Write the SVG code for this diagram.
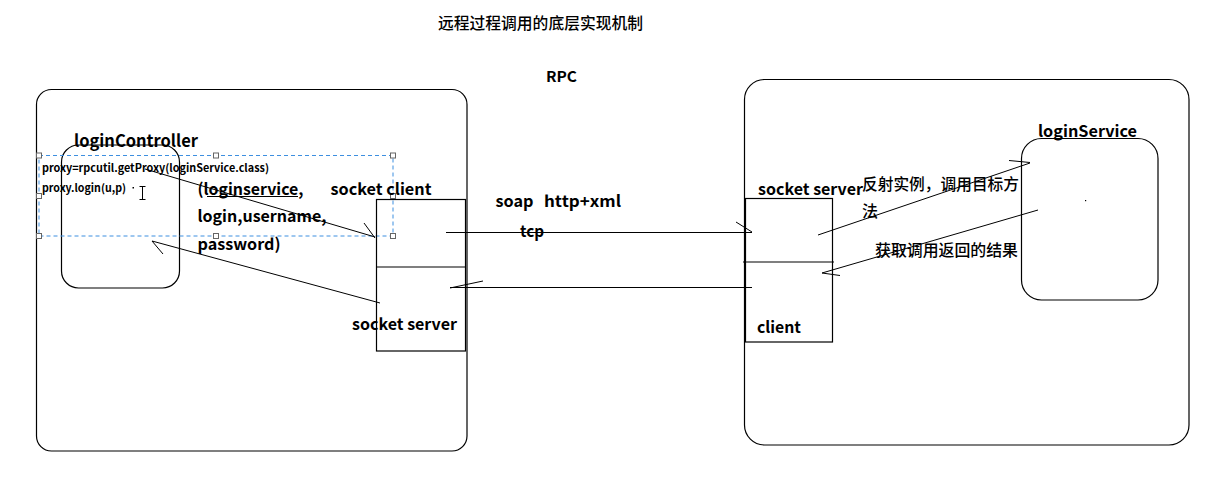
<svg xmlns="http://www.w3.org/2000/svg" width="1228" height="480" viewBox="0 0 1228 480">
<style>
.box{fill:none;stroke:#000;stroke-width:1.2}
.ln{fill:none;stroke:#000;stroke-width:1}
.t{font-family:"Noto Sans CJK SC","Noto Sans",sans-serif;font-weight:bold;fill:#000}
.zh{font-family:"Noto Sans CJK SC",sans-serif;font-weight:500;fill:#000;font-size:16px}
.big{font-size:16px}
.sm{font-size:11px}
.sel{fill:none;stroke:#3d8fe0;stroke-width:1;stroke-dasharray:4 3}
.h{fill:#fff;stroke:#666;stroke-width:1}
</style>
<rect width="1228" height="480" fill="#fff"/>
<g id="title">
<text class="zh" x="438" y="29" textLength="205" lengthAdjust="spacingAndGlyphs">远程过程调用的底层实现机制</text>
<text class="t" font-size="15" x="546" y="82" textLength="31" lengthAdjust="spacingAndGlyphs">RPC</text>
</g>
<g id="client-machine">
<rect class="box" x="36.5" y="89.5" width="430.5" height="361.5" rx="15"/>
</g>
<g id="loginController">
<rect class="box" x="61.5" y="145" width="118" height="143" rx="17"/>
<text class="t" font-size="17" x="74" y="147" textLength="124" lengthAdjust="spacingAndGlyphs">loginController</text>
</g>
<g id="selection">
<rect class="sel" x="39" y="155.5" width="354" height="80.5"/>
<rect class="h" x="36.5" y="153" width="5" height="5"/>
<rect class="h" x="213.5" y="153" width="5" height="5"/>
<rect class="h" x="390.5" y="153" width="5" height="5"/>
<rect class="h" x="36.5" y="193.5" width="5" height="5"/>
<rect class="h" x="390.5" y="193.5" width="5" height="5"/>
<rect class="h" x="36.5" y="233.5" width="5" height="5"/>
<rect class="h" x="213.5" y="233.5" width="5" height="5"/>
<rect class="h" x="390.5" y="233.5" width="5" height="5"/>
<text class="t sm" x="42" y="172" textLength="227" lengthAdjust="spacingAndGlyphs">proxy=rpcutil.getProxy(loginService.class)</text>
<text class="t sm" x="42" y="192" textLength="84" lengthAdjust="spacingAndGlyphs">proxy.login(u,p)</text>
<rect x="132.5" y="187" width="1.5" height="1.5" fill="#000"/>
<path class="ln" d="M142.5 186V200M139.5 186.5H145.5M139.5 199.5H145.5"/>
</g>
<g id="params">
<text class="t big" x="197.5" y="195" textLength="106" lengthAdjust="spacingAndGlyphs">(loginservice,</text>
<line class="ln" x1="207" y1="196.5" x2="298" y2="196.5"/>
<text class="t big" x="197.5" y="222" textLength="129" lengthAdjust="spacingAndGlyphs">login,username,</text>
<text class="t big" x="197.5" y="250" textLength="83" lengthAdjust="spacingAndGlyphs">password)</text>
</g>
<g id="socket-client">
<rect class="box" x="376.5" y="199.5" width="89" height="151.5"/>
<line class="box" x1="376.5" y1="267" x2="465.5" y2="267"/>
<text class="t big" x="330.5" y="195" textLength="101" lengthAdjust="spacingAndGlyphs">socket client</text>
<text class="t big" x="352" y="330" textLength="105" lengthAdjust="spacingAndGlyphs">socket server</text>
</g>
<g id="server-machine">
<rect class="box" x="744.5" y="79.5" width="444.5" height="365.5" rx="20"/>
</g>
<g id="socket-server">
<rect class="box" x="745.5" y="198.5" width="87" height="143.5"/>
<line class="box" x1="743" y1="262" x2="834" y2="262"/>
<text class="t big" x="758" y="195" textLength="105" lengthAdjust="spacingAndGlyphs">socket server</text>
<text class="t big" x="757" y="333" textLength="44" lengthAdjust="spacingAndGlyphs">client</text>
</g>
<g id="loginService">
<rect class="box" x="1021.5" y="138.5" width="136.5" height="161.5" rx="20"/>
<text class="t big" x="1038" y="137" textLength="99" lengthAdjust="spacingAndGlyphs">loginService</text>
<rect x="1085" y="200" width="1.2" height="1.2" fill="#000"/>
</g>
<g id="connectors">
<line class="ln" x1="145" y1="169" x2="375" y2="237"/>
<line class="ln" x1="364" y1="223" x2="375" y2="238"/>
<line class="ln" x1="380" y1="303" x2="152" y2="241"/>
<line class="ln" x1="152" y1="241" x2="163" y2="254"/>
<line class="ln" x1="446" y1="232.5" x2="752" y2="232.5"/>
<line class="ln" x1="736" y1="222" x2="752" y2="232"/>
<line class="ln" x1="752" y1="287.5" x2="450" y2="287.5"/>
<line class="ln" x1="450" y1="288" x2="483" y2="281"/>
<line class="ln" x1="818" y1="235" x2="1030" y2="163"/>
<line class="ln" x1="1009" y1="160.5" x2="1030" y2="162.5"/>
<line class="ln" x1="1038" y1="210" x2="822" y2="273"/>
<line class="ln" x1="822" y1="273" x2="840" y2="275.5"/>
<text class="t big" x="495.5" y="207" textLength="38" lengthAdjust="spacingAndGlyphs">soap</text>
<text class="t big" x="544" y="207" textLength="77" lengthAdjust="spacingAndGlyphs">http+xml</text>
<text class="t big" x="520" y="237" textLength="24" lengthAdjust="spacingAndGlyphs">tcp</text>
<text class="zh" x="862" y="189.5" textLength="157" lengthAdjust="spacingAndGlyphs">反射实例，调用目标方</text>
<text class="zh" x="862" y="217">法</text>
<text class="zh" x="875" y="256" textLength="143" lengthAdjust="spacingAndGlyphs">获取调用返回的结果</text>
</g>
</svg>
